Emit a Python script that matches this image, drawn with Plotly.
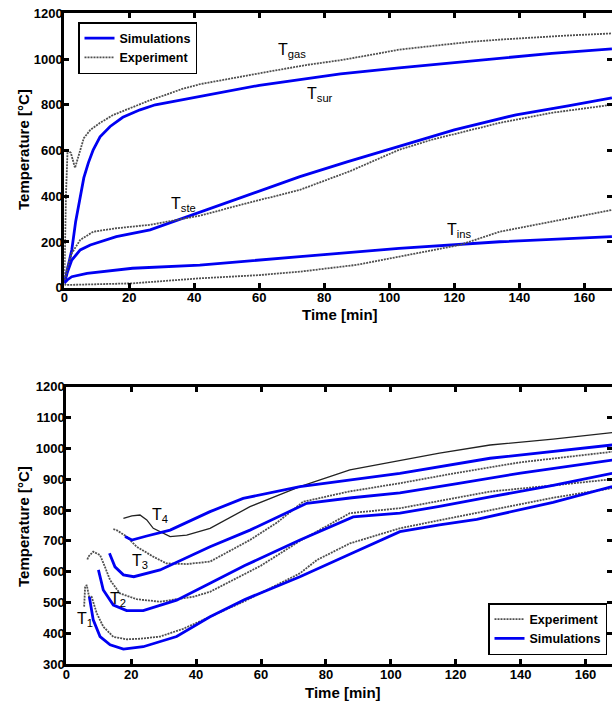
import plotly.graph_objects as go

# ---------------- data ----------------
# Top panel: gas / surface / steel / insulation temperatures
t_gas_exp = [0, 0.5, 1, 2, 3.3, 4.5, 6, 8, 11, 15, 21, 26, 31.5, 36, 41.7, 50, 60, 66, 75, 85, 95, 103, 115, 125, 134, 145, 155, 168.5]
v_gas_exp = [20, 400, 600, 590, 524, 580, 654, 690, 721, 755, 790, 818, 845, 868, 890, 912, 940, 953, 975, 995, 1020, 1041, 1060, 1075, 1085, 1095, 1103, 1112]

t_sur_sim = [0, 1, 2.3, 3.5, 4.9, 6, 7.4, 8.9, 11, 14.1, 18, 23.3, 28, 33.5, 41.7, 50, 60, 72.5, 85, 103, 120, 134, 150, 168.5]
v_sur_sim = [20, 80, 165, 290, 399, 480, 546, 603, 660, 705, 745, 778, 800, 815, 837, 860, 885, 910, 935, 961, 985, 1005, 1025, 1044]

t_ste_exp = [0, 1, 2.3, 4.9, 8.9, 16, 26.4, 41.7, 55, 72.5, 88, 103, 113, 134, 150, 168.5]
v_ste_exp = [20, 90, 151, 209, 245, 260, 275, 315, 365, 428, 510, 603, 647, 721, 765, 800]

t_ste_sim = [0, 1, 2.3, 4.9, 8, 16, 26.4, 41.7, 55, 72.5, 87, 100, 103, 120, 139, 155, 168.5]
v_ste_sim = [20, 70, 121, 165, 187, 223, 253, 330, 400, 486, 550, 603, 618, 690, 756, 795, 830]

t_ins_sim = [0, 1, 2.3, 7, 21, 41.7, 72.5, 103, 134, 168.5]
v_ins_sim = [20, 35, 48, 63, 85, 99, 136, 172, 201, 223]

t_ins_exp = [0, 0.7, 21, 41.7, 60, 72.5, 90, 103, 121.7, 134, 150, 168.5]
v_ins_exp = [15, 12, 19, 41, 55, 70, 100, 136, 187, 245, 290, 340]

top_labels = ["T<sub>gas</sub>", "T<sub>sur</sub>", "T<sub>ste</sub>", "T<sub>ins</sub>"]
top_label_t = [70, 78.7, 36.8, 121.4]
top_label_v = [1037, 843, 362, 252]

# Bottom panel: T1..T4
t_T1_exp = [5.5, 5.8, 6.3, 7, 7.8, 9.4, 11.4, 14.5, 18.6, 23, 28.9, 36, 44.3, 55, 72, 77.2, 87.4, 102.8, 115, 130.6, 150, 168.2]
v_T1_exp = [487, 552, 557, 520, 519, 465, 422, 389, 381, 383, 390, 415, 454, 505, 595, 638, 692, 741, 767, 800, 840, 871]
t_T1_sim = [7.1, 8.3, 10.4, 13.5, 17.6, 23.7, 34, 44.3, 55, 72, 87, 102.8, 115, 126.5, 150, 168.2]
v_T1_sim = [519, 444, 390, 363, 349, 357, 390, 454, 510, 584, 655, 730, 752, 770, 825, 876]

t_T2_exp = [6.5, 6.8, 8.3, 10.4, 11.9, 13.5, 16.5, 21.7, 28.9, 39.1, 44.3, 60, 72, 87.4, 102.8, 130.6, 150, 168.2]
v_T2_exp = [640, 649, 665, 654, 616, 573, 530, 511, 503, 519, 535, 620, 700, 790, 806, 860, 880, 900]
t_T2_sim = [9.9, 11.4, 14.5, 18.6, 23.7, 34, 44.3, 55, 72, 88.4, 102.8, 115, 130.6, 150, 168.2]
v_T2_sim = [606, 541, 492, 474, 474, 508, 563, 620, 703, 778, 790, 812, 843, 880, 919]

t_T3_exp = [14.5, 15.5, 18.6, 21.7, 26.8, 30.9, 37.1, 44.3, 56.6, 65, 73, 87, 102.8, 120, 140, 168.2]
v_T3_exp = [738, 735, 714, 681, 649, 627, 625, 633, 703, 760, 827, 860, 887, 920, 955, 989]
t_T3_sim = [13.3, 15, 17.6, 20.8, 28.9, 39.1, 44.3, 56.6, 74.1, 88, 102.8, 120, 140, 168.2]
v_T3_sim = [660, 616, 590, 584, 606, 654, 681, 735, 822, 840, 856, 885, 920, 962]

t_T4_exp = [17.6, 20.2, 22.7, 24.8, 26.8, 28.9, 32, 37.1, 44.3, 56.6, 72, 87.4, 102.8, 115, 130.6, 150, 168.2]
v_T4_exp = [773, 781, 784, 768, 741, 730, 714, 719, 741, 811, 876, 930, 962, 985, 1011, 1030, 1051]
t_T4_sim = [18.1, 20.2, 24.8, 32, 44.3, 54.5, 72, 102.8, 130.6, 150, 168.2]
v_T4_sim = [714, 703, 716, 735, 795, 838, 876, 919, 968, 990, 1011]

bot_labels = ["T<sub>1</sub>", "T<sub>2</sub>", "T<sub>3</sub>", "T<sub>4</sub>"]
bot_label_t = [5.8, 15.9, 22.7, 28.9]
bot_label_v = [444, 509, 632, 784]

top_xticks = [0, 20, 40, 60, 80, 100, 120, 140, 160]
top_yticks = [0, 200, 400, 600, 800, 1000, 1200]
bot_yticks = [300, 400, 500, 600, 700, 800, 900, 1000, 1100, 1200]

# ---------------- styling ----------------
FONT = "Liberation Sans, Arial, Helvetica, sans-serif"
BLUE = "#0000F2"
GRAY = "#505050"
W, H = 612, 704

fig = go.Figure()

def sim(x, y, xa, ya, legend, show):
    fig.add_trace(go.Scatter(x=x, y=y, xaxis=xa, yaxis=ya, mode="lines",
                             line=dict(color=BLUE, width=2.8),
                             name="Simulations", legend=legend,
                             showlegend=show, hoverinfo="skip"))

def exp(x, y, xa, ya, legend, show, color=GRAY, dash="2px,1px", width=1.8):
    fig.add_trace(go.Scatter(x=x, y=y, xaxis=xa, yaxis=ya, mode="lines",
                             line=dict(color=color, width=width, dash=dash),
                             name="Experiment", legend=legend,
                             showlegend=show, hoverinfo="skip"))

# top panel (legend: Simulations first)
sim(t_sur_sim, v_sur_sim, "x", "y", "legend", True)
exp(t_gas_exp, v_gas_exp, "x", "y", "legend", True)
sim(t_ste_sim, v_ste_sim, "x", "y", "legend", False)
exp(t_ste_exp, v_ste_exp, "x", "y", "legend", False)
sim(t_ins_sim, v_ins_sim, "x", "y", "legend", False)
exp(t_ins_exp, v_ins_exp, "x", "y", "legend", False)

# bottom panel (legend: Experiment first)
exp(t_T1_exp, v_T1_exp, "x2", "y2", "legend2", True)
sim(t_T1_sim, v_T1_sim, "x2", "y2", "legend2", True)
exp(t_T2_exp, v_T2_exp, "x2", "y2", "legend2", False)
sim(t_T2_sim, v_T2_sim, "x2", "y2", "legend2", False)
exp(t_T3_exp, v_T3_exp, "x2", "y2", "legend2", False)
sim(t_T3_sim, v_T3_sim, "x2", "y2", "legend2", False)
exp(t_T4_exp, v_T4_exp, "x2", "y2", "legend2", False, color="#222222", dash="solid", width=1.3)
sim(t_T4_sim, v_T4_sim, "x2", "y2", "legend2", False)

tickfont = dict(family=FONT, size=13, color="black", weight="bold")
axis_common = dict(showline=True, linewidth=3, linecolor="black", mirror="ticks",
                   ticks="inside", ticklen=5, tickwidth=2.5, tickcolor="black",
                   showgrid=False, zeroline=False, tickfont=tickfont, fixedrange=True,
                   automargin=False, ticklabelstandoff=-4)

top_y0, top_y1 = 13.3, 287.7
bot_y0, bot_y1 = 386.7, 664.3
top_x0, bot_x0 = 64.3, 66.3

legend_font = dict(family=FONT, size=12.5, color="black", weight="bold")

fig.update_layout(
    width=W, height=H,
    margin=dict(l=0, r=0, t=0, b=0, pad=0, autoexpand=False),
    paper_bgcolor="white", plot_bgcolor="white",
    xaxis=dict(domain=[top_x0 / W, 1], range=[0, (W - top_x0) / 3.25], anchor="y",
               tickvals=top_xticks, **axis_common),
    yaxis=dict(domain=[1 - top_y1 / H, 1 - top_y0 / H], range=[0, 1200], anchor="x",
               tickvals=top_yticks, **axis_common),
    xaxis2=dict(domain=[bot_x0 / W, 1], range=[0, (W - bot_x0) / 3.245], anchor="y2",
                tickvals=top_xticks, **axis_common),
    yaxis2=dict(domain=[1 - bot_y1 / H, 1 - bot_y0 / H], range=[300, 1200], anchor="x2",
                tickvals=bot_yticks, **axis_common),
    legend=dict(x=78 / W, y=1 - 22 / H, xanchor="left", yanchor="top",
                bgcolor="white", bordercolor="black", borderwidth=1.5,
                font=legend_font, itemwidth=30, tracegroupgap=0),
    legend2=dict(x=607 / W, y=1 - 655 / H, xanchor="right", yanchor="bottom",
                 bgcolor="white", bordercolor="black", borderwidth=1.5,
                 font=legend_font, itemwidth=30, tracegroupgap=0),
)

annotations = []
title_font = dict(family=FONT, size=15, color="black", weight="bold")
# axis titles
annotations.append(dict(text="Time [min]", x=340 / W, y=1 - 314 / H, xref="paper", yref="paper",
                        showarrow=False, font=title_font, xanchor="center", yanchor="middle"))
annotations.append(dict(text="Time [min]", x=343 / W, y=1 - 692 / H, xref="paper", yref="paper",
                        showarrow=False, font=title_font, xanchor="center", yanchor="middle"))
annotations.append(dict(text="Temperature [°C]", x=23 / W, y=1 - 150 / H, xref="paper", yref="paper",
                        showarrow=False, font=title_font, textangle=-90, xanchor="center", yanchor="middle"))
annotations.append(dict(text="Temperature [°C]", x=23 / W, y=1 - 527 / H, xref="paper", yref="paper",
                        showarrow=False, font=title_font, textangle=-90, xanchor="center", yanchor="middle"))

label_font = dict(family=FONT, size=16, color="black")
for txt, tx, vy in zip(top_labels, top_label_t, top_label_v):
    annotations.append(dict(text=txt, x=tx, y=vy, xref="x", yref="y", showarrow=False,
                            font=label_font, xanchor="center", yanchor="middle"))
for txt, tx, vy in zip(bot_labels, bot_label_t, bot_label_v):
    annotations.append(dict(text=txt, x=tx, y=vy, xref="x2", yref="y2", showarrow=False,
                            font=label_font, xanchor="center", yanchor="middle"))

fig.update_layout(annotations=annotations)

# remove the browser's default 8px body margin so the figure sits at the window origin
fig.write_html("out.html", config={"displayModeBar": False},
               post_script="document.body.style.margin='0';document.body.style.overflow='hidden';")
